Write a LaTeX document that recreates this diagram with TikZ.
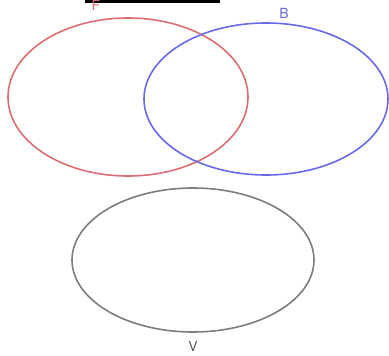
\documentclass[tikz,border=0pt]{standalone}
\usepackage{fontspec}
\setmainfont{TeX Gyre Heros}
\definecolor{cred}{RGB}{220,110,115}
\definecolor{cblue}{RGB}{105,105,235}
\definecolor{cgray}{RGB}{125,125,125}
\definecolor{vgray}{RGB}{90,90,90}
\begin{document}
\begin{tikzpicture}[x=1pt,y=-1pt,
  setline/.style={line width=1.6pt},
  lbl/.style={font=\fontsize{14}{14}\selectfont, inner sep=0pt}]
\useasboundingbox (0,0) rectangle (389,356);
\fill[black] (85,0) rectangle (220,3);
\node[lbl, text=cred] (F) at (96,5) {F};
\node[lbl, text=cblue] (B) at (284,13) {B};
\node[lbl, text=vgray] (V) at (193,346) {V};
\draw[setline, cred] (128,97) ellipse [x radius=120, y radius=79];
\draw[setline, cblue] (266,99) ellipse [x radius=122, y radius=76];
\draw[setline, cgray] (193,260) ellipse [x radius=121, y radius=72];
\end{tikzpicture}
\end{document}
